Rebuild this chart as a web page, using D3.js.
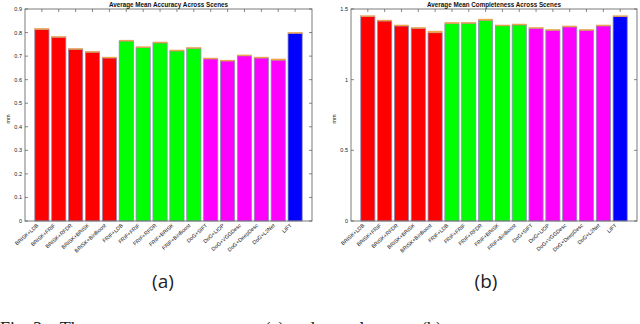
<!DOCTYPE html>
<html>
<head>
<meta charset="utf-8">
<script src="https://cdn.jsdelivr.net/npm/d3@7"></script>
<style>
  body { margin: 0; background: #fff; overflow: hidden; }
  svg { display: block; }
  text { font-family: "Liberation Sans", Arial, sans-serif; }
</style>
</head>
<body>
<svg id="fig" width="640" height="324"></svg>
<script>
// method names, shared by both panels
const methods = ["BRISK+LDB", "BRISK+FRIF", "BRISK+RFDR", "BRISK+BRISK", "BRISK+BinBoost",
  "FRIF+LDB", "FRIF+FRIF", "FRIF+RFDR", "FRIF+BRISK", "FRIF+BinBoost",
  "DoG+SIFT", "DoG+LIOP", "DoG+VGGDesc", "DoG+DeepDesc", "DoG+L2Net", "LIFT"];
const groups = ["r", "r", "r", "r", "r", "g", "g", "g", "g", "g", "m", "m", "m", "m", "m", "b"];

// (a) accuracy: main bar + thin cap on top
const accuracy = [0.813, 0.780, 0.729, 0.717, 0.692, 0.764, 0.736, 0.756, 0.722, 0.733,
  0.688, 0.680, 0.701, 0.692, 0.683, 0.797];
const accuracyCap = [0.818, 0.784, 0.733, 0.720, 0.696, 0.768, 0.740, 0.760, 0.726, 0.737,
  0.692, 0.683, 0.705, 0.696, 0.688, 0.801];
const accuracyTicks = [0, 0.1, 0.2, 0.3, 0.4, 0.5, 0.6, 0.7, 0.8, 0.9];

// (b) completeness
const completeness = [1.446, 1.415, 1.380, 1.363, 1.332, 1.396, 1.399, 1.420, 1.382, 1.387,
  1.363, 1.349, 1.373, 1.349, 1.380, 1.446];
const completenessCap = [1.453, 1.422, 1.387, 1.370, 1.344, 1.406, 1.406, 1.429, 1.387, 1.394,
  1.370, 1.356, 1.380, 1.356, 1.387, 1.453];
const completenessTicks = [0, 0.5, 1, 1.5];

const colors = { r: "#ff0000", g: "#00ff00", m: "#ff00ff", b: "#0000ff" };

const svg = d3.select("#fig");

// one bar panel
function panel(opt) {
  const x = d3.scaleLinear().domain([0, methods.length + 1]).range([opt.left, opt.right]);
  const y = d3.scaleLinear().domain([0, opt.max]).range([opt.bottom, opt.top]);
  const g = svg.append("g");
  const bw = x(0.84) - x(0);

  // bars
  g.selectAll(".bar").data(opt.values).enter().append("rect")
    .attr("x", (d, i) => x(i + 1) - bw / 2)
    .attr("y", d => y(d))
    .attr("width", bw)
    .attr("height", d => y(0) - y(d))
    .attr("fill", (d, i) => colors[groups[i]])
    .attr("stroke", "#8c8cb4")
    .attr("stroke-width", 0.8);

  // small cap on each bar
  g.selectAll(".cap").data(opt.caps).enter().append("rect")
    .attr("x", (d, i) => x(i + 1) - bw / 2)
    .attr("y", d => y(d))
    .attr("width", bw)
    .attr("height", (d, i) => Math.max(1, y(opt.values[i]) - y(d)))
    .attr("fill", "#f2b134")
    .attr("stroke", "#e09060")
    .attr("stroke-width", 0.4);

  // box
  g.append("rect")
    .attr("x", opt.left).attr("y", opt.top)
    .attr("width", opt.right - opt.left).attr("height", opt.bottom - opt.top)
    .attr("fill", "none").attr("stroke", "#6e6e6e").attr("stroke-width", 0.9);

  // y ticks, left and right, pointing in
  const yt = g.append("g");
  opt.ticks.forEach(t => {
    yt.append("line").attr("x1", opt.left).attr("x2", opt.left + 3)
      .attr("y1", y(t)).attr("y2", y(t)).attr("stroke", "#555").attr("stroke-width", 0.7);
    yt.append("line").attr("x1", opt.right).attr("x2", opt.right - 3)
      .attr("y1", y(t)).attr("y2", y(t)).attr("stroke", "#555").attr("stroke-width", 0.7);
    yt.append("text").attr("x", opt.left - 3).attr("y", y(t) + 2)
      .attr("text-anchor", "end").attr("font-size", 5.5).attr("fill", "#222")
      .text(d3.format("~g")(t));
  });

  // x ticks at bar centres, top and bottom
  methods.forEach((m, i) => {
    const cx = x(i + 1);
    g.append("line").attr("x1", cx).attr("x2", cx).attr("y1", opt.top).attr("y2", opt.top + 3)
      .attr("stroke", "#555").attr("stroke-width", 0.7);
    g.append("text")
      .attr("transform", "translate(" + (cx - 3) + "," + (opt.bottom + 5) + ") rotate(-42)")
      .attr("text-anchor", "end").attr("font-size", 5.3).attr("fill", "#111")
      .text(m);
  });

  // title and y label
  g.append("text").attr("x", (opt.left + opt.right) / 2).attr("y", opt.top - 2.5)
    .attr("text-anchor", "middle").attr("font-size", 6.3).attr("font-weight", "bold")
    .attr("fill", "#111").text(opt.title);
  g.append("text")
    .attr("transform", "translate(" + (opt.left - 15) + "," + ((opt.top + opt.bottom) / 2 + 4) + ") rotate(-90)")
    .attr("text-anchor", "middle").attr("font-size", 5.5).attr("fill", "#222").text("mm");

  // sub caption
  svg.append("text").attr("x", opt.capX).attr("y", 288)
    .attr("text-anchor", "middle").attr("font-size", 19)
    .style("font-family", "'Open Sans', sans-serif").attr("fill", "#222")
    .text(opt.label);
}

panel({ left: 25, right: 312, top: 9, bottom: 221, max: 0.9, values: accuracy, caps: accuracyCap,
  ticks: accuracyTicks, title: "Average Mean Accuracy Across Scenes", label: "(a)", capX: 163 });
panel({ left: 351, right: 637, top: 9, bottom: 221, max: 1.5, values: completeness, caps: completenessCap,
  ticks: completenessTicks, title: "Average Mean Completeness Across Scenes", label: "(b)", capX: 486 });

// figure caption, cut off by the bottom edge as in the source image
svg.append("text").attr("x", 0).attr("y", 335)
  .attr("font-size", 18).style("font-family", "'Liberation Serif', serif").attr("fill", "#222")
  .attr("xml:space", "preserve")
  .text("Fig. 3.   The average mean accuracy (a) and completeness (b) across scenes.");
</script>
</body>
</html>
